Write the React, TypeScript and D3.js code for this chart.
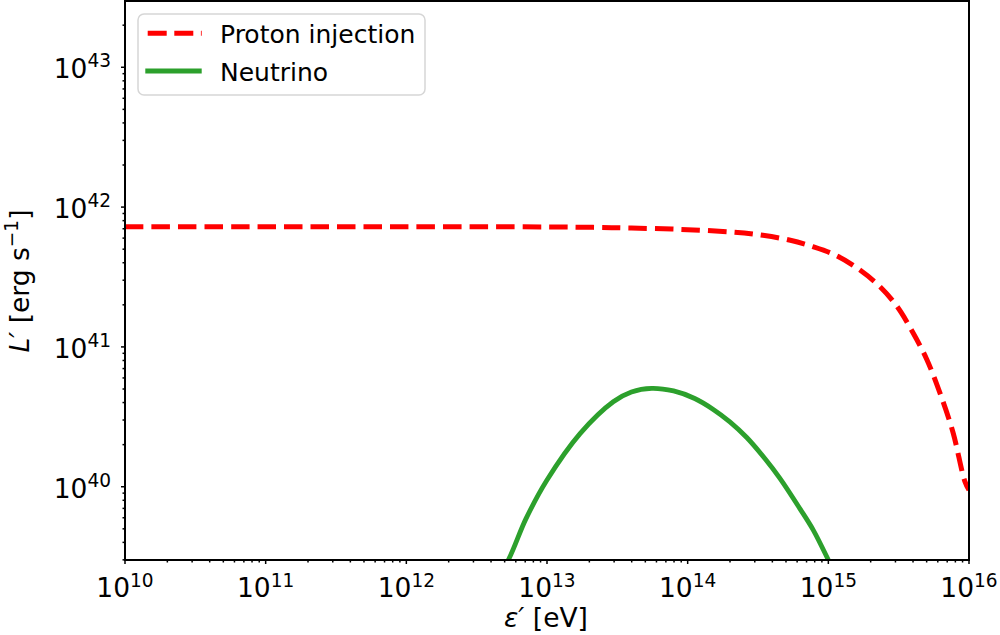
import { useMemo } from 'react';

import { line, curveCatmullRom, range, scaleLog } from 'd3';

// log10 of energy [eV] and log10 of luminosity [erg/s]
const protonLogE = [10, 11, 12, 13, 13.33, 13.6, 13.945, 14.32, 14.535, 14.73, 14.89, 15.06, 15.225, 15.367, 15.488, 15.6, 15.7, 15.79, 15.886, 15.97, 16.0];
const protonLogL = [41.86, 41.86, 41.86, 41.858, 41.855, 41.85, 41.841, 41.821, 41.798, 41.763, 41.717, 41.652, 41.55, 41.431, 41.29, 41.105, 40.91, 40.68, 40.39, 40.04, 39.976];

const neutrinoLogE = [12.6, 12.725, 12.85, 13.0, 13.235, 13.471, 13.6, 13.744, 13.9, 14.05, 14.182, 14.3, 14.42, 14.55, 14.656, 14.8, 14.893, 15.0, 15.1];
const neutrinoLogL = [39.27, 39.476, 39.77, 40.048, 40.38, 40.608, 40.678, 40.704, 40.685, 40.631, 40.553, 40.464, 40.352, 40.2, 40.06, 39.84, 39.69, 39.476, 39.26];

const xTickExps = [10, 11, 12, 13, 14, 15, 16];
const yTickExps = [40, 41, 42, 43];

const seriesNames = ['Proton injection', 'Neutrino'];

const W = 1000,
  H = 635;
const plot = { left: 125, right: 969, top: 1, bottom: 560 };
const font = 'DejaVu Sans, sans-serif';
const fs = 26.5;
const legendFs = 25;

export default function App() {
  const x = useMemo(
    () => scaleLog().domain([1e10, 1e16]).range([plot.left, plot.right]),
    []
  );
  const y = useMemo(
    () =>
      scaleLog()
        .domain([Math.pow(10, 39.476), Math.pow(10, 43.474)])
        .range([plot.bottom, plot.top]),
    []
  );

  const proton = protonLogE.map((e, i) => [Math.pow(10, e), Math.pow(10, protonLogL[i])]);
  const neutrino = neutrinoLogE.map((e, i) => [Math.pow(10, e), Math.pow(10, neutrinoLogL[i])]);

  const path = line<number[]>()
    .x((d) => x(d[0]))
    .y((d) => y(d[1]))
    .curve(curveCatmullRom.alpha(0.5));

  const xMinor: number[] = [];
  xTickExps.slice(0, -1).forEach((e) =>
    range(2, 10).forEach((k) => xMinor.push(k * Math.pow(10, e)))
  );
  const yMinor: number[] = [];
  range(39, 44).forEach((e) =>
    range(2, 10).forEach((k) => {
      const v = k * Math.pow(10, e);
      const py = y(v);
      if (py >= plot.top && py <= plot.bottom) yMinor.push(v);
    })
  );

  return (
    <svg
      width={W}
      height={H}
      style={{ position: 'absolute', left: 0, top: 0, background: '#fff' }}
      fontFamily={font}
    >
      <defs>
        <clipPath id="plotclip">
          <rect
            x={plot.left}
            y={plot.top}
            width={plot.right - plot.left}
            height={plot.bottom - plot.top}
          />
        </clipPath>
      </defs>

      <g clipPath="url(#plotclip)">
        <path
          d={path(neutrino) ?? ''}
          fill="none"
          stroke="#2ca02c"
          strokeWidth={4.8}
        />
        <path
          d={path(proton) ?? ''}
          fill="none"
          stroke="#ff0000"
          strokeWidth={5}
          strokeDasharray="18.5 8"
        />
      </g>

      {/* ticks */}
      <g stroke="#000" strokeWidth={1.5}>
        {xMinor.map((v, i) => (
          <line key={'xm' + i} x1={x(v)} x2={x(v)} y1={plot.bottom} y2={plot.bottom + 2.5} />
        ))}
        {xTickExps.map((e) => (
          <line key={'xM' + e} x1={x(Math.pow(10, e))} x2={x(Math.pow(10, e))} y1={plot.bottom} y2={plot.bottom + 4} />
        ))}
        {yMinor.map((v, i) => (
          <line key={'ym' + i} x1={plot.left - 2.5} x2={plot.left} y1={y(v)} y2={y(v)} />
        ))}
        {yTickExps.map((e) => (
          <line key={'yM' + e} x1={plot.left - 4} x2={plot.left} y1={y(Math.pow(10, e))} y2={y(Math.pow(10, e))} />
        ))}
      </g>

      {xTickExps.map((e) => (
        <text
          key={'xl' + e}
          x={x(Math.pow(10, e))}
          y={597}
          textAnchor="middle"
          fontSize={fs}
        >
          10
          <tspan fontSize={fs * 0.7} dy={-10}>
            {e}
          </tspan>
        </text>
      ))}
      {yTickExps.map((e) => (
        <text
          key={'yl' + e}
          x={111}
          y={y(Math.pow(10, e)) + 11}
          textAnchor="end"
          fontSize={fs}
        >
          10
          <tspan fontSize={fs * 0.7} dy={-11}>
            {e}
          </tspan>
        </text>
      ))}

      {/* frame */}
      <rect
        x={plot.left}
        y={plot.top}
        width={plot.right - plot.left}
        height={plot.bottom - plot.top}
        fill="none"
        stroke="#000"
        strokeWidth={2}
      />

      {/* axis labels */}
      <text x={546} y={627} textAnchor="middle" fontSize={fs}>
        <tspan fontStyle="italic">ε′</tspan> [eV]
      </text>
      <text transform="translate(29,281) rotate(-90)" textAnchor="middle" fontSize={fs}>
        <tspan fontStyle="italic">L′</tspan> [erg s
        <tspan fontSize={fs * 0.7} dy={-11}>
          −1
        </tspan>
        <tspan dy={11}>]</tspan>
      </text>

      {/* legend */}
      <g>
        <rect
          x={138}
          y={14}
          width={287}
          height={81}
          rx={6}
          fill="#fff"
          fillOpacity={0.8}
          stroke="#d6d6d6"
          strokeWidth={1.5}
        />
        <line x1={147.7} x2={201.7} y1={33.3} y2={33.3} stroke="#ff0000" strokeWidth={5} strokeDasharray="19 7.6" />
        <line x1={145.3} x2={201.7} y1={71} y2={71} stroke="#2ca02c" strokeWidth={4.8} />
        <text x={220} y={43} fontSize={legendFs}>
          {seriesNames[0]}
        </text>
        <text x={220} y={80.5} fontSize={legendFs}>
          {seriesNames[1]}
        </text>
      </g>
    </svg>
  );
}
